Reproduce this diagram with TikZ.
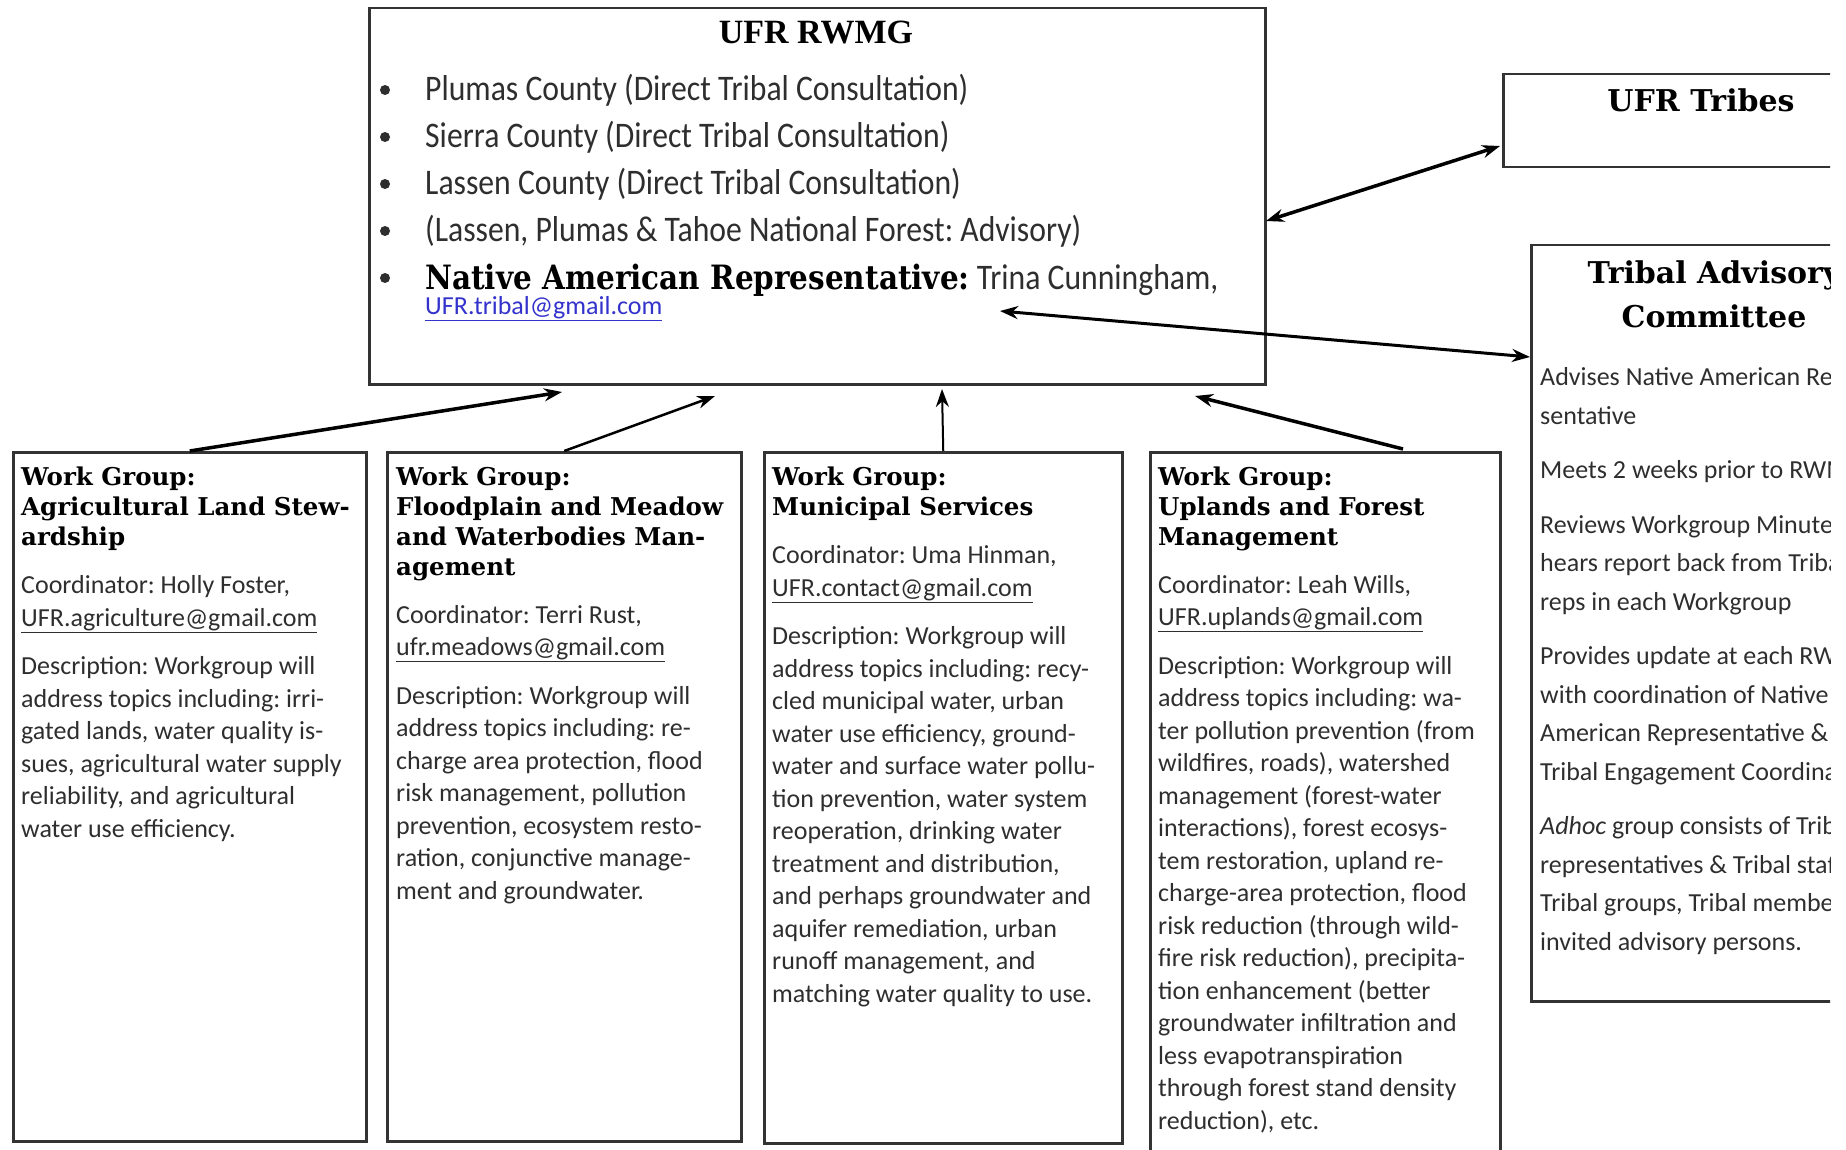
\documentclass[tikz,border=0pt]{standalone}
\usepackage{fontspec}
\setmainfont{Carlito}
\newfontfamily\rwmgfont[FakeStretch=0.88]{Carlito}
\newfontfamily\cabeza{DejaVu Serif}
\newfontfamily\cabezaest[FakeStretch=0.88]{DejaVu Serif}
\newfontfamily\titulo{Liberation Serif}
\usetikzlibrary{arrows.meta,calc}
\definecolor{borde}{gray}{0.2}
\definecolor{texto}{gray}{0.18}
\definecolor{enlace}{RGB}{51,51,204}
\frenchspacing

\begin{document}
\begin{tikzpicture}[x=1pt,y=-1pt,
    caja/.style={draw=borde, line width=2.5pt, anchor=north west, inner sep=0pt},
    titwg/.style={anchor=base west, align=left, inner sep=0pt, font=\cabeza\bfseries\fontsize{24.5}{30}\selectfont},
    cuerpo/.style={anchor=base west, align=left, inner sep=0pt, text=texto, font=\fontsize{26}{32.5}\selectfont},
    item/.style={anchor=base west, inner sep=0pt, text=texto, font=\rwmgfont\fontsize{36}{47}\selectfont},
    flecha/.style={line width=2.5pt, -{Stealth[length=18pt,width=13pt]}},
    doble/.style={line width=3.5pt, {Stealth[length=18pt,width=13pt]}-{Stealth[length=18pt,width=13pt]}}]

    \useasboundingbox (0,0) rectangle (1846,1150);
    \begin{scope}
    \clip (0,0) rectangle (1830,1150);

    % Cajas
    \node[caja, minimum width=896, minimum height=376] (rwmg) at (368,7) {};
    \node[caja, minimum width=398, minimum height=93] (tribus) at (1502,73) {};
    \node[caja, minimum width=368, minimum height=756] (tac) at (1530,244) {};
    \node[caja, minimum width=353, minimum height=689] (wg1) at (12,451) {};
    \node[caja, minimum width=354, minimum height=689] (wg2) at (386,451) {};
    \node[caja, minimum width=358, minimum height=691] (wg3) at (763,451) {};
    \node[caja, minimum width=350, minimum height=720] (wg4) at (1149,451) {};

    % UFR RWMG
    \node[anchor=base, inner sep=0pt, font=\titulo\bfseries\fontsize{34}{40}\selectfont] (rwmgtit) at (816,44) {UFR RWMG};
    \foreach \txt [count=\i] in {{Plumas County (Direct Tribal Consultation)},
        {Sierra County (Direct Tribal Consultation)},
        {Lassen County (Direct Tribal Consultation)},
        {(Lassen, Plumas \& Tahoe National Forest: Advisory)}} {
        \fill[texto] (385,43+47*\i) circle (5);
        \node[item] (item\i) at (425,54+47*\i) {\txt};
    }
    \fill[texto] (385,278) circle (5);
    \node[item] (item5) at (425,289) {{\cabezaest\bfseries\color{black}\fontsize{33.5}{40}\selectfont Native American Representative:} Trina Cunningham,};
    \node[anchor=base west, inner sep=0pt, text=enlace, font=\fontsize{26}{30}\selectfont] (correo) at (425,314) {\underline{UFR.tribal@gmail.com}};

    % UFR Tribes
    \node[anchor=base, inner sep=0pt, font=\cabeza\bfseries\fontsize{30}{36}\selectfont] (tribustit) at (1701,112) {UFR Tribes};

    % Tribal Advisory Committee
    \node[anchor=base, align=center, inner sep=0pt, font=\cabeza\bfseries\fontsize{30}{44}\selectfont] (tactit) at (1714,327) {Tribal Advisory\\Committee};
    \node[cuerpo, font=\fontsize{26}{38.5}\selectfont] (tactxt) at (1540,950) {Advises Native American Repre-\\sentative\\[16pt]
        Meets 2 weeks prior to RWMG\\[16pt]
        Reviews Workgroup Minutes \&\\hears report back from Tribal\\reps in each Workgroup\\[16pt]
        Provides update at each RWMG\\with coordination of Native\\American Representative \&\\Tribal Engagement Coordinator\\[16pt]
        \textit{Adhoc} group consists of Tribal\\representatives \& Tribal staff,\\Tribal groups, Tribal members,\\invited advisory persons.};

    % Work groups
    \node[titwg] (wg1tit) at ($(wg1.north west)+(9,94)$) {Work Group:\\Agricultural Land Stew-\\ardship};
    \node[cuerpo] (wg1txt) at ($(wg1.north west)+(9,386)$) {Coordinator: Holly Foster,\\\underline{UFR.agriculture@gmail.com}\\[16pt]
        Description: Workgroup will\\address topics including: irri-\\gated lands, water quality is-\\sues, agricultural water supply\\reliability, and agricultural\\water use efficiency.};

    \node[titwg] (wg2tit) at ($(wg2.north west)+(10,124)$) {Work Group:\\Floodplain and Meadow\\and Waterbodies Man-\\agement};
    \node[cuerpo] (wg2txt) at ($(wg2.north west)+(10,448)$) {Coordinator: Terri Rust,\\\underline{ufr.meadows@gmail.com}\\[16pt]
        Description: Workgroup will\\address topics including: re-\\charge area protection, flood\\risk management, pollution\\prevention, ecosystem resto-\\ration, conjunctive manage-\\ment and groundwater.};

    \node[titwg] (wg3tit) at ($(wg3.north west)+(9,64)$) {Work Group:\\Municipal Services};
    \node[cuerpo] (wg3txt) at ($(wg3.north west)+(9,551)$) {Coordinator: Uma Hinman,\\\underline{UFR.contact@gmail.com}\\[16pt]
        Description: Workgroup will\\address topics including: recy-\\cled municipal water, urban\\water use efficiency, ground-\\water and surface water pollu-\\tion prevention, water system\\reoperation, drinking water\\treatment and distribution,\\and perhaps groundwater and\\aquifer remediation, urban\\runoff management, and\\matching water quality to use.};

    \node[titwg] (wg4tit) at ($(wg4.north west)+(9,94)$) {Work Group:\\Uplands and Forest\\Management};
    \node[cuerpo] (wg4txt) at ($(wg4.north west)+(9,678)$) {Coordinator: Leah Wills,\\\underline{UFR.uplands@gmail.com}\\[16pt]
        Description: Workgroup will\\address topics including: wa-\\ter pollution prevention (from\\wildfires, roads), watershed\\management (forest-water\\interactions), forest ecosys-\\tem restoration, upland re-\\charge-area protection, flood\\risk reduction (through wild-\\fire risk reduction), precipita-\\tion enhancement (better\\groundwater infiltration and\\less evapotranspiration\\through forest stand density\\reduction), etc.};

    % Flechas
    \coordinate (a1) at (562,392);
    \coordinate (a2) at (715,396);
    \coordinate (a3) at (942,389);
    \coordinate (a4) at (1195,396);
    \coordinate (b4) at (1403,449);
    \coordinate (t1) at (1266,221);
    \coordinate (t2) at (1500,146);
    \coordinate (n1) at (1000,311);
    \coordinate (n2) at (1530,357);

    \draw[flecha, line width=3.5pt] (wg1.north) -- (a1);
    \draw[flecha] (wg2.north) -- (a2);
    \draw[flecha, line width=2pt] (wg3.north) -- (a3);
    \draw[flecha, line width=3.5pt] (b4) -- (a4);
    \draw[doble] (t1) -- (t2);
    \draw[doble, line width=3pt] (n1) -- (n2);
    \end{scope}
\end{tikzpicture}
\end{document}
